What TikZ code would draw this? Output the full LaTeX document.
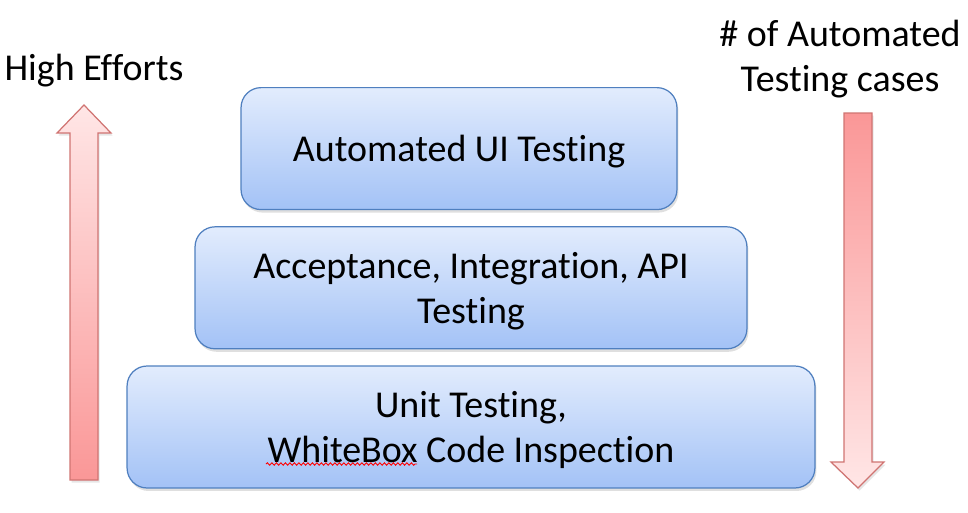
\documentclass[tikz,border=0pt]{standalone}
\usepackage{fontspec}
\setmainfont{Carlito}[RawFeature=-liga]
\usetikzlibrary{positioning, shadows, decorations.pathmorphing}

\definecolor{boxtop}{HTML}{E2ECFD}
\definecolor{boxbottom}{HTML}{A3C2F6}
\definecolor{boxline}{HTML}{4F7FBF}
\definecolor{arrowpale}{HTML}{FFE6E6}
\definecolor{arrowred}{HTML}{FA9797}
\definecolor{arrowline}{HTML}{D07472}

\begin{document}
\begin{tikzpicture}[
    x=0.02cm, y=-0.02cm,
    node distance=0.32cm, % gap between the layers
    layer/.style={rectangle, rounded corners=0.4cm, draw=boxline, line width=0.7pt,
        top color=boxtop, bottom color=boxbottom, minimum height=2.44cm,
        align=center, text depth=0pt, font=\fontsize{21.6}{25.4}\selectfont,
        drop shadow={opacity=0.25, shadow xshift=0.03cm, shadow yshift=-0.06cm}},
    caption/.style={align=center, font=\fontsize{21.6}{25.4}\selectfont},
    fatarrow/.style={draw=arrowline, line width=0.7pt,
        drop shadow={opacity=0.2, shadow xshift=0.03cm, shadow yshift=-0.05cm}}
]
\useasboundingbox (0,0) rectangle (968,512);

% Layers of the pyramid
\node (unit) at (471,427) [layer, minimum width=13.76cm] {Unit Testing,\\WhiteBox Code Inspection};
\node (api) [layer, minimum width=11.04cm, above=of unit] {Acceptance, Integration, API\\Testing};
\node (ui) [layer, minimum width=8.72cm, above=of api, xshift=-0.24cm] {Automated UI Testing};

% Spell check mark
\draw [red, line width=0.5pt, decorate, decoration={snake, amplitude=0.025cm, segment length=0.09cm}]
    (266,464) -- (417,464);

% Side labels
\node (efforts) at (94,71) [caption] {High Efforts};
\node (count) at (840,59) [caption] {\# of Automated\\Testing cases};

% Side arrows
\path [fatarrow, top color=arrowpale, bottom color=arrowred]
    (70,480) -- (70,133) -- (57,133) -- (84,105) -- (111,133) -- (98,133) -- (98,480) -- cycle;
\path [fatarrow, top color=arrowred, bottom color=arrowpale]
    (844,113) -- (844,462) -- (831,462) -- (858,488) -- (884,462) -- (872,462) -- (872,113) -- cycle;

\end{tikzpicture}
\end{document}
